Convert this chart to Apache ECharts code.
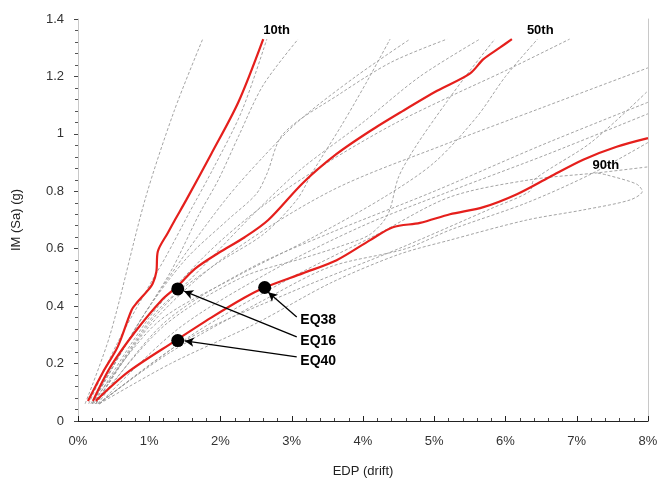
<!DOCTYPE html>
<html>
<head>
<meta charset="utf-8">
<script src="https://cdn.jsdelivr.net/npm/echarts@6/dist/echarts.min.js"></script>
<style>html,body{margin:0;padding:0;background:#fff}#c{width:668px;height:495px}</style>
</head>
<body>
<div id="c"></div>
<script>
// x: drift in %, y: Sa in g
const xTicks = ['0%','1%','2%','3%','4%','5%','6%','7%','8%'];
const yTicks = ['0','0.2','0.4','0.6','0.8','1','1.2','1.4'];

const rec01 = [[0.10,0.06],[0.45,0.30],[0.94,0.77],[1.35,1.08],[1.75,1.33]];
const rec02 = [[0.15,0.06],[0.55,0.27],[0.95,0.45],[1.25,0.58],[1.55,0.72],[1.9,0.88],[2.3,1.08],[2.65,1.33]];
const rec03 = [[0.18,0.06],[0.8,0.32],[1.3,0.52],[1.7,0.72],[1.97,0.84],[2.25,0.99],[2.6,1.17],[3.09,1.33]];
const rec04 = [[0.2,0.06],[0.9,0.36],[1.5,0.56],[2.1,0.70],[2.5,0.79],[2.65,0.86],[2.88,1.0],[3.68,1.14],[4.4,1.25],[5.18,1.33]];
const rec05 = [[0.25,0.06],[1.1,0.38],[1.9,0.54],[2.6,0.65],[3.07,0.77],[3.3,0.87],[3.7,1.03],[4.05,1.18],[4.38,1.33]];
const rec06 = [[0.2,0.06],[0.85,0.34],[1.5,0.58],[2.1,0.78],[2.6,0.92],[3.12,1.05],[3.9,1.2],[4.66,1.33]];
const rec07 = [[0.22,0.06],[1.0,0.36],[1.8,0.58],[2.6,0.75],[3.5,0.9],[4.4,1.03],[5.22,1.13],[6.0,1.22],[6.9,1.33]];
const rec08 = [[0.25,0.06],[1.2,0.33],[2.3,0.5],[3.2,0.57],[3.7,0.61],[4.1,0.65],[4.35,0.72],[4.5,0.85],[4.75,0.96],[5.2,1.12],[5.5,1.22],[5.85,1.33]];
const rec09 = [[0.2,0.06],[1.1,0.34],[2.2,0.5],[3.3,0.64],[4.3,0.78],[5.0,0.9],[5.6,1.06],[6.0,1.2],[6.45,1.33]];
const rec10 = [[0.25,0.06],[1.0,0.33],[2.0,0.56],[3.54,0.8],[5.22,0.97],[6.5,1.09],[8,1.23]];
const rec11 = [[0.28,0.06],[1.2,0.34],[2.4,0.53],[3.54,0.655],[5.0,0.8],[6.5,0.96],[8,1.11]];
const rec12 = [[0.3,0.06],[1.4,0.32],[2.7,0.52],[4.0,0.68],[5.22,0.8],[6.6,0.93],[8,1.07]];
const rec13 = [[0.3,0.06],[1.5,0.28],[3.0,0.45],[4.5,0.6],[5.8,0.74],[6.34,0.8],[6.4,0.84],[7.2,0.97],[8,1.15]];
const rec14 = [[0.3,0.06],[1.6,0.3],[3.0,0.5],[4.2,0.65],[5.22,0.78],[6.34,0.84],[7.28,0.864],[8,0.885]];
const rec15 = [[0.28,0.06],[1.3,0.24],[2.6,0.42],[3.54,0.537],[4.6,0.6],[5.22,0.665],[6.3,0.76],[7.2,0.86],[8,0.97]];
const rec16 = [[0.3,0.06],[1.3,0.2],[2.5,0.34],[3.54,0.48],[4.5,0.58],[5.22,0.63],[6.3,0.7],[7.09,0.735],[7.75,0.77],[7.92,0.80],[7.84,0.825],[7.42,0.857],[7.28,0.864]];
const rec17 = [[0.25,0.06],[1.0,0.34],[1.8,0.55],[2.5,0.73],[3.12,0.875],[4.0,1.04],[4.8,1.2],[5.64,1.33]];
const records = [rec01,rec02,rec03,rec04,rec05,rec06,rec07,rec08,rec09,rec10,rec11,rec12,rec13,rec14,rec15,rec16,rec17];

const p10 = [[0.14,0.07],[0.35,0.17],[0.56,0.26],[0.75,0.385],[0.82,0.41],[0.98,0.455],[1.05,0.48],[1.10,0.52],[1.12,0.59],[1.26,0.655],[1.36,0.70],[1.52,0.77],[1.87,0.93],[2.25,1.11],[2.6,1.33]];
const p50 = [[0.21,0.07],[0.46,0.19],[0.80,0.31],[1.17,0.42],[1.40,0.47],[1.64,0.53],[1.97,0.585],[2.34,0.64],[2.67,0.70],[3.16,0.83],[3.63,0.93],[4.10,1.01],[4.56,1.08],[5.04,1.15],[5.5,1.21],[5.69,1.26],[5.92,1.30],[6.09,1.33]];
const p90 = [[0.25,0.07],[0.70,0.17],[1.37,0.28],[1.87,0.36],[2.34,0.43],[2.62,0.465],[3.16,0.515],[3.63,0.56],[4.10,0.63],[4.42,0.675],[4.80,0.69],[5.22,0.72],[5.69,0.745],[6.16,0.79],[6.62,0.85],[7.09,0.91],[7.56,0.955],[8.0,0.985]];

const eqNames = ['EQ38','EQ16','EQ40'];
const eqPoints = [[2.62,0.465],[1.4,0.46],[1.4,0.28]];
const eqLabelPos = [[3.12,0.35],[3.12,0.277],[3.12,0.207]];
const eqArrowFrom = [[3.07,0.362],[3.07,0.293],[3.07,0.223]];
const eqArrowTo = [[2.67,0.448],[1.49,0.452],[1.50,0.279]];

const pctNames = ['10th','50th','90th'];
const pctLabelPos = [[2.6,1.36],[6.3,1.36],[7.22,0.889]];

const font = 'Liberation Sans, Arial, sans-serif';
const chart = echarts.init(document.getElementById('c'), null, {renderer:'canvas'});

const series = [];
records.forEach((r,i) => series.push({
  type:'line', data:r, smooth:0.3, symbol:'none', silent:true,
  lineStyle:{color:'#9a9a9a', width:0.9, type:[3,2]}, z:2
}));
[p10,p50,p90].forEach(p => series.push({
  type:'line', data:p, smooth:0.3, symbol:'none', silent:true,
  lineStyle:{color:'#e51f1c', width:2.2}, z:3
}));
series.push({
  type:'scatter', data:eqPoints, symbol:'circle', symbolSize:13,
  itemStyle:{color:'#000', opacity:1}, z:5, silent:true,
  markLine:{
    silent:true, symbol:['none','arrow'], symbolSize:[7,9],
    lineStyle:{color:'#000', width:1.3, type:'solid', opacity:1},
    label:{show:false},
    data: eqArrowFrom.map((f,i) => [{coord:f},{coord:eqArrowTo[i]}])
  }
});
series.push({
  type:'scatter', symbolSize:0, z:6, silent:true,
  itemStyle:{opacity:1},
  data: eqLabelPos.map((p,i) => ({value:p, name:eqNames[i]})),
  label:{show:true, position:'right', distance:0, formatter:'{b}',
    fontFamily:font, fontWeight:'bold', fontSize:14, color:'#000'}
});
series.push({
  type:'scatter', symbolSize:0, z:6, silent:true,
  itemStyle:{opacity:1},
  data: pctLabelPos.map((p,i) => ({value:p, name:pctNames[i]})),
  label:{show:true, position:'right', distance:0, formatter:'{b}',
    fontFamily:font, fontWeight:'bold', fontSize:13, color:'#000'}
});

chart.setOption({
  animation:false,
  backgroundColor:'#fff',
  grid:{left:78, right:20, top:19, bottom:74, containLabel:false},
  xAxis:{
    type:'value', min:0, max:8, interval:1,
    name:'EDP (drift)', nameLocation:'middle', nameGap:44,
    nameTextStyle:{fontFamily:font, fontSize:13, color:'#222'},
    axisLine:{show:true, lineStyle:{color:'#222', width:1.2}},
    axisTick:{show:true, inside:true, length:5, lineStyle:{color:'#222'}},
    minorTick:{show:true, splitNumber:5, length:3, lineStyle:{color:'#444'}},
    splitLine:{show:false},
    axisLabel:{margin:14, fontFamily:font, fontSize:13, color:'#333',
      formatter:(v) => xTicks[Math.round(v)]}
  },
  yAxis:[{
    type:'value', min:0, max:1.4, interval:0.2,
    name:'IM (Sa) (g)', nameLocation:'middle', nameGap:55,
    nameTextStyle:{fontFamily:font, fontSize:13, color:'#222'},
    axisLine:{show:true, lineStyle:{color:'#c8c8c8'}},
    axisTick:{show:true, length:4, lineStyle:{color:'#444'}},
    minorTick:{show:true, splitNumber:5, length:3, lineStyle:{color:'#555'}},
    splitLine:{show:false},
    axisLabel:{margin:14, fontFamily:font, fontSize:13, color:'#333',
      formatter:(v) => yTicks[Math.round(v/0.2)]}
  },{
    type:'value', min:0, max:1.4, position:'right',
    axisLine:{show:true, lineStyle:{color:'#c8c8c8'}},
    axisTick:{show:false}, axisLabel:{show:false}, splitLine:{show:false}
  }],
  series: series
});
</script>
</body>
</html>
